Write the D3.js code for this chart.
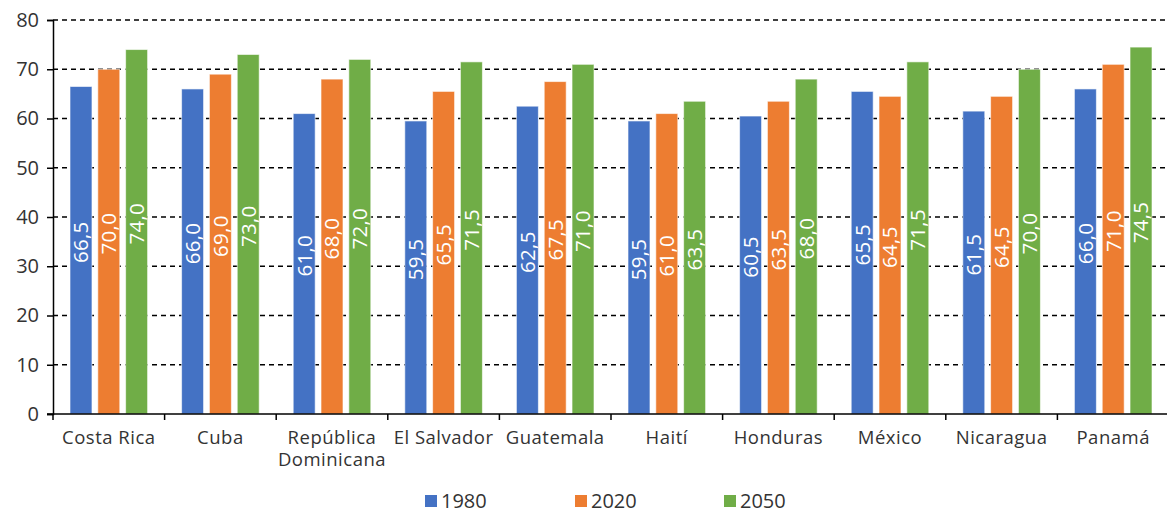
<!DOCTYPE html>
<html>
<head>
<meta charset="utf-8">
<script src="https://cdnjs.cloudflare.com/ajax/libs/d3/7.8.5/d3.min.js"></script>
<style>
  html, body { margin: 0; padding: 0; background: #fff; }
  svg { display: block; font-family: "Open Sans", "Noto Sans", sans-serif; }
</style>
</head>
<body>
<svg id="chart" width="1167" height="514"></svg>
<script>
// Countries (category axis); "\n" marks a line break in the label
const countries = ["Costa Rica", "Cuba", "República\nDominicana", "El Salvador", "Guatemala",
                   "Haití", "Honduras", "México", "Nicaragua", "Panamá"];
const years = ["1980", "2020", "2050"];
const values1980 = [66.5, 66.0, 61.0, 59.5, 62.5, 59.5, 60.5, 65.5, 61.5, 66.0];
const values2020 = [70.0, 69.0, 68.0, 65.5, 67.5, 61.0, 63.5, 64.5, 64.5, 71.0];
const values2050 = [74.0, 73.0, 72.0, 71.5, 71.0, 63.5, 68.0, 71.5, 70.0, 74.5];
const yTicks = [0, 10, 20, 30, 40, 50, 60, 70, 80];
const colors = ["#4472C4", "#ED7D31", "#70AD47"];

const seriesValues = [values1980, values2020, values2050];
const rows = countries.map((c, i) => ({
  country: c,
  vals: years.map((y, k) => ({ year: y, value: seriesValues[k][i], k }))
}));

const svg = d3.select("#chart");
const W = 1167;
const plotLeft = 53, plotTop = 20, plotBottom = 414;

const x = d3.scaleBand().domain(countries).range([plotLeft, plotLeft + 10 * 111.6]);
const groupPad = 17;
const xInner = d3.scaleBand().domain(years)
  .range([groupPad, x.bandwidth() - groupPad]).paddingInner(0.21).paddingOuter(0);
const y = d3.scaleLinear().domain([0, 80]).range([plotBottom, plotTop]);

// Dashed horizontal gridlines
svg.append("g")
  .selectAll("line")
  .data(yTicks.filter(t => t > 0))
  .join("line")
  .attr("x1", plotLeft).attr("x2", W)
  .attr("y1", d => y(d)).attr("y2", d => y(d))
  .attr("stroke", "#000").attr("stroke-width", 1.3)
  .attr("stroke-dasharray", "5,4");

// Bars
const groups = svg.append("g").selectAll("g")
  .data(rows).join("g")
  .attr("transform", d => `translate(${x(d.country)},0)`);

groups.selectAll("rect")
  .data(d => d.vals).join("rect")
  .attr("x", d => xInner(d.year))
  .attr("width", xInner.bandwidth())
  .attr("y", d => y(d.value))
  .attr("height", d => plotBottom - y(d.value))
  .attr("fill", d => colors[d.k])
  .attr("stroke", "#fff").attr("stroke-opacity", 0.6).attr("stroke-width", 1);

// Value labels, rotated inside the bars
const fmt = v => v.toFixed(1).replace(".", ",");
groups.selectAll("text.val")
  .data(d => d.vals).join("text")
  .attr("class", "val")
  .attr("transform", d => {
    const cx = xInner(d.year) + xInner.bandwidth() / 2;
    const cy = (y(d.value) + plotBottom) / 2 - 8;
    return `translate(${cx},${cy}) rotate(-90)`;
  })
  .attr("text-anchor", "middle")
  .attr("dy", "0.36em")
  .attr("fill", "#fff")
  .attr("font-size", 20.5)
  .attr("letter-spacing", 0.3)
  .text(d => fmt(d.value));

// Y axis
const yAxis = svg.append("g")
  .attr("transform", `translate(${plotLeft},0)`)
  .call(d3.axisLeft(y).tickValues(yTicks).tickSize(6).tickPadding(8).tickFormat(d3.format("d")));
yAxis.select(".domain").attr("stroke", "#000").attr("stroke-width", 1.5);
yAxis.selectAll(".tick line").attr("stroke", "#000").attr("stroke-width", 1.5);
yAxis.selectAll("text").attr("font-size", 20).attr("fill", "#333")
  .attr("font-family", "'Open Sans', sans-serif");

// X axis with tick marks at category boundaries
svg.append("line")
  .attr("x1", plotLeft - 6).attr("x2", W)
  .attr("y1", plotBottom).attr("y2", plotBottom)
  .attr("stroke", "#000").attr("stroke-width", 1.5);
svg.append("g").selectAll("line")
  .data(countries.map(c => x(c)))
  .join("line")
  .attr("x1", d => d).attr("x2", d => d)
  .attr("y1", plotBottom).attr("y2", plotBottom + 6)
  .attr("stroke", "#000").attr("stroke-width", 1.5);

// Category labels
svg.append("g").selectAll("text")
  .data(countries).join("text")
  .attr("x", d => x(d) + x.bandwidth() / 2)
  .attr("y", 444)
  .attr("text-anchor", "middle")
  .attr("font-size", 18.5)
  .attr("letter-spacing", 0.5)
  .attr("fill", "#333")
  .each(function (d) {
    const t = d3.select(this);
    d.split("\n").forEach((line, i) => {
      t.append("tspan").attr("x", x(d) + x.bandwidth() / 2).attr("dy", i === 0 ? 0 : 22).text(line);
    });
  });

// Legend
const legendX = [425, 575, 724];
const legend = svg.append("g").selectAll("g")
  .data(years).join("g")
  .attr("transform", (d, i) => `translate(${legendX[i]},0)`);
legend.append("rect")
  .attr("x", 0).attr("y", 495).attr("width", 12).attr("height", 12)
  .attr("fill", (d, i) => colors[i]);
legend.append("text")
  .attr("x", 16).attr("y", 508)
  .attr("font-size", 20)
  .attr("fill", "#333")
  .text(d => d);
</script>
</body>
</html>
